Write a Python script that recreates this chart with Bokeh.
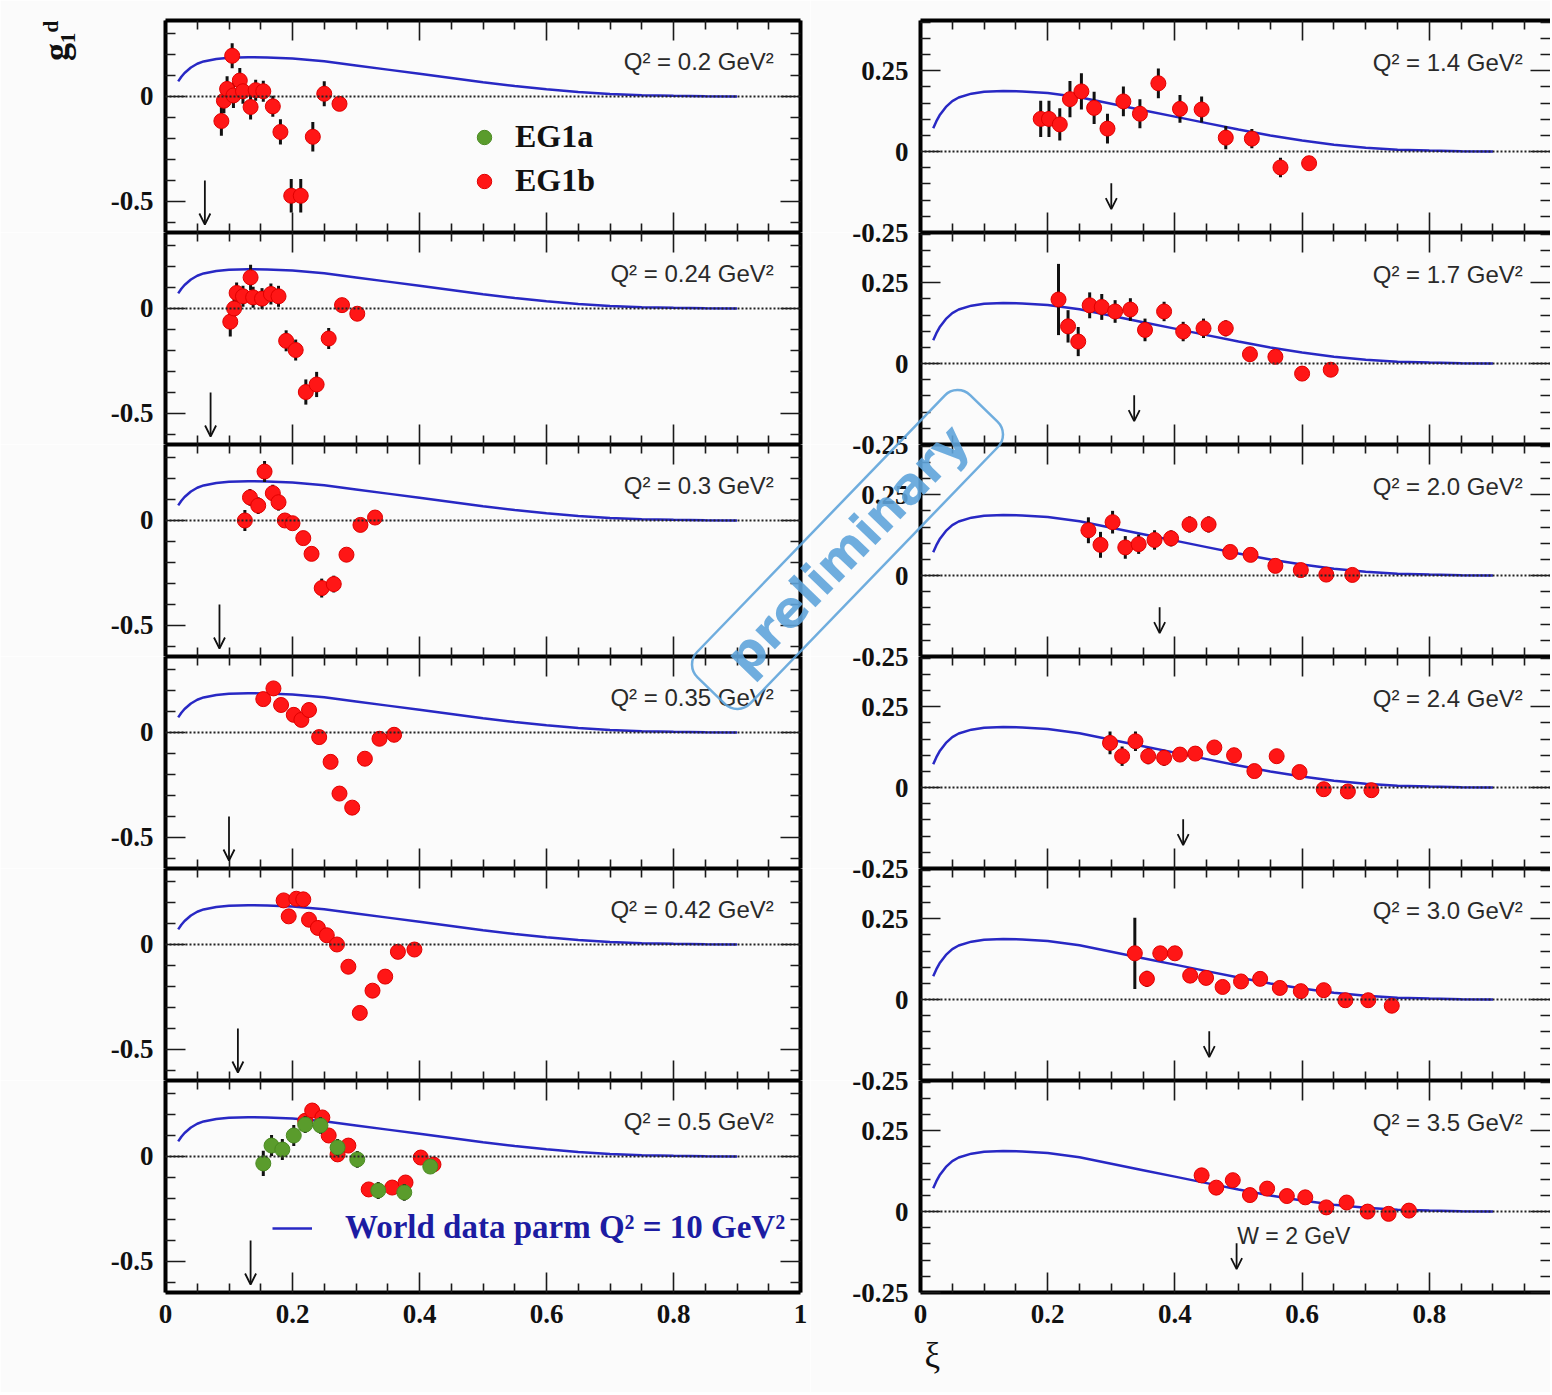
import math
from bokeh.plotting import figure
from bokeh.models import (Range1d, FixedTicker, LinearAxis, Span, Label, Arrow, OpenHead, Title,
                          ColumnDataSource, CustomJSTickFormatter, Legend, LegendItem, GridBox)
from bokeh.embed import file_html
from bokeh.resources import INLINE

# ---------------- data ----------------
# world data parametrisation (Q^2 = 10 GeV^2), same in every panel
curve_xi = [0.02, 0.025, 0.03, 0.04, 0.05, 0.06, 0.08, 0.1, 0.13, 0.16, 0.2, 0.25, 0.3,
            0.35, 0.4, 0.45, 0.5, 0.55, 0.6, 0.65, 0.7, 0.75, 0.8, 0.85, 0.9]
curve_g1 = [0.072, 0.094, 0.112, 0.138, 0.156, 0.167, 0.179, 0.185, 0.187, 0.186, 0.181, 0.168,
            0.148, 0.128, 0.108, 0.088, 0.068, 0.05, 0.034, 0.021, 0.012, 0.006, 0.003, 0.001, 0.0]

q2_left = ["0.2", "0.24", "0.3", "0.35", "0.42", "0.5"]
q2_right = ["1.4", "1.7", "2.0", "2.4", "3.0", "3.5"]

# W = 2 GeV arrows
w2_xi_left = [0.062, 0.071, 0.085, 0.100, 0.114, 0.134]
w2_xi_right = [0.300, 0.336, 0.376, 0.413, 0.454, 0.497]

# EG1b, Q^2 = 0.2
q020_xi = [0.088, 0.092, 0.097, 0.105, 0.107, 0.117, 0.122, 0.134, 0.142, 0.154, 0.169, 0.181, 0.198, 0.213, 0.232, 0.250, 0.274]
q020_g1 = [-0.117, -0.020, 0.036, 0.194, 0.005, 0.076, 0.025, -0.050, 0.030, 0.025, -0.047, -0.169, -0.473, -0.473, -0.192, 0.013, -0.035]
q020_er = [0.07, 0.06, 0.06, 0.06, 0.06, 0.06, 0.06, 0.06, 0.05, 0.05, 0.05, 0.06, 0.08, 0.08, 0.07, 0.06, 0.03]
# Q^2 = 0.24
q024_xi = [0.102, 0.108, 0.112, 0.122, 0.134, 0.138, 0.152, 0.166, 0.178, 0.190, 0.205, 0.221, 0.238, 0.257, 0.278, 0.302]
q024_g1 = [-0.063, 0.000, 0.074, 0.058, 0.148, 0.053, 0.047, 0.069, 0.058, -0.154, -0.198, -0.398, -0.362, -0.143, 0.016, -0.025]
q024_er = [0.07, 0.05, 0.05, 0.05, 0.06, 0.05, 0.05, 0.05, 0.05, 0.05, 0.05, 0.06, 0.06, 0.05, 0.03, 0.02]
# Q^2 = 0.3
q030_xi = [0.125, 0.133, 0.146, 0.156, 0.169, 0.178, 0.188, 0.200, 0.217, 0.230, 0.246, 0.265, 0.285, 0.307, 0.330]
q030_g1 = [0.000, 0.110, 0.071, 0.233, 0.130, 0.087, 0.000, -0.013, -0.084, -0.159, -0.322, -0.303, -0.163, -0.021, 0.014]
q030_er = [0.05, 0.04, 0.04, 0.05, 0.04, 0.04, 0.03, 0.03, 0.03, 0.03, 0.045, 0.04, 0.03, 0.02, 0.02]
# Q^2 = 0.35
q035_xi = [0.154, 0.170, 0.182, 0.202, 0.214, 0.226, 0.242, 0.260, 0.274, 0.294, 0.314, 0.337, 0.360]
q035_g1 = [0.159, 0.210, 0.131, 0.084, 0.060, 0.107, -0.022, -0.140, -0.291, -0.358, -0.125, -0.030, -0.011]
q035_er = [0.03, 0.03, 0.03, 0.025, 0.025, 0.02, 0.02, 0.02, 0.02, 0.02, 0.02, 0.015, 0.015]
# Q^2 = 0.42
q042_xi = [0.186, 0.194, 0.206, 0.217, 0.226, 0.240, 0.254, 0.270, 0.288, 0.306, 0.326, 0.346, 0.366, 0.392]
q042_g1 = [0.210, 0.134, 0.218, 0.215, 0.118, 0.079, 0.044, 0.000, -0.106, -0.326, -0.220, -0.153, -0.035, -0.024]
q042_er = [0.02, 0.02, 0.02, 0.02, 0.015, 0.015, 0.015, 0.015, 0.015, 0.015, 0.015, 0.015, 0.012, 0.012]
# Q^2 = 0.5 (EG1b)
q050_xi = [0.220, 0.231, 0.247, 0.257, 0.271, 0.288, 0.320, 0.357, 0.378, 0.402, 0.422]
q050_g1 = [0.170, 0.219, 0.186, 0.100, 0.010, 0.052, -0.157, -0.148, -0.124, -0.005, -0.038]
q050_er = [0.03, 0.03, 0.03, 0.03, 0.03, 0.03, 0.03, 0.03, 0.03, 0.02, 0.02]
# Q^2 = 0.5 (EG1a)
eg1a_q050_xi = [0.154, 0.167, 0.184, 0.202, 0.220, 0.244, 0.271, 0.302, 0.335, 0.376, 0.417]
eg1a_q050_g1 = [-0.033, 0.052, 0.033, 0.100, 0.152, 0.148, 0.043, -0.014, -0.162, -0.171, -0.048]
eg1a_q050_er = [0.06, 0.05, 0.05, 0.05, 0.04, 0.04, 0.04, 0.04, 0.04, 0.04, 0.03]
# Q^2 = 1.4
q140_xi = [0.189, 0.202, 0.219, 0.235, 0.253, 0.273, 0.294, 0.319, 0.345, 0.374, 0.408, 0.442, 0.480, 0.521, 0.566, 0.611]
q140_g1 = [0.101, 0.101, 0.084, 0.162, 0.186, 0.135, 0.071, 0.155, 0.117, 0.211, 0.132, 0.130, 0.043, 0.040, -0.049, -0.036]
q140_er = [0.056, 0.056, 0.05, 0.056, 0.056, 0.05, 0.046, 0.046, 0.045, 0.046, 0.043, 0.04, 0.036, 0.03, 0.03, 0.02]
# Q^2 = 1.7
q170_xi = [0.217, 0.232, 0.248, 0.266, 0.285, 0.306, 0.330, 0.353, 0.383, 0.413, 0.445, 0.480, 0.518, 0.558, 0.600, 0.645]
q170_g1 = [0.198, 0.115, 0.068, 0.180, 0.175, 0.161, 0.167, 0.104, 0.161, 0.099, 0.109, 0.109, 0.029, 0.021, -0.031, -0.019]
q170_er = [0.11, 0.05, 0.045, 0.04, 0.04, 0.035, 0.035, 0.035, 0.03, 0.03, 0.03, 0.025, 0.02, 0.02, 0.02, 0.015]
# Q^2 = 2.0
q200_xi = [0.264, 0.283, 0.302, 0.322, 0.343, 0.368, 0.394, 0.423, 0.453, 0.487, 0.519, 0.558, 0.598, 0.638, 0.679]
q200_g1 = [0.140, 0.095, 0.165, 0.087, 0.097, 0.110, 0.115, 0.158, 0.158, 0.073, 0.064, 0.030, 0.017, 0.003, 0.002]
q200_er = [0.04, 0.04, 0.035, 0.035, 0.03, 0.03, 0.025, 0.025, 0.025, 0.02, 0.02, 0.015, 0.015, 0.015, 0.01]
# Q^2 = 2.4
q240_xi = [0.298, 0.317, 0.338, 0.358, 0.383, 0.408, 0.432, 0.462, 0.493, 0.525, 0.560, 0.596, 0.634, 0.672, 0.709]
q240_g1 = [0.138, 0.097, 0.143, 0.097, 0.092, 0.102, 0.105, 0.124, 0.100, 0.051, 0.097, 0.048, -0.005, -0.012, -0.008]
q240_er = [0.035, 0.03, 0.03, 0.025, 0.025, 0.02, 0.02, 0.02, 0.02, 0.015, 0.015, 0.015, 0.012, 0.012, 0.012]
# Q^2 = 3.0
q300_xi = [0.337, 0.356, 0.377, 0.400, 0.424, 0.449, 0.475, 0.504, 0.534, 0.565, 0.598, 0.634, 0.668, 0.704, 0.741]
q300_g1 = [0.143, 0.064, 0.143, 0.143, 0.074, 0.067, 0.039, 0.056, 0.064, 0.036, 0.026, 0.029, -0.002, -0.002, -0.019]
q300_er = [0.11, 0.025, 0.02, 0.02, 0.015, 0.015, 0.015, 0.015, 0.015, 0.012, 0.012, 0.012, 0.012, 0.012, 0.012]
# Q^2 = 3.5
q350_xi = [0.442, 0.465, 0.491, 0.518, 0.545, 0.576, 0.605, 0.638, 0.670, 0.703, 0.736, 0.768]
q350_g1 = [0.112, 0.074, 0.097, 0.051, 0.071, 0.048, 0.044, 0.013, 0.028, 0.000, -0.007, 0.003]
q350_er = [0.015, 0.015, 0.015, 0.012, 0.012, 0.012, 0.012, 0.01, 0.01, 0.01, 0.01, 0.01]

x_major_left = [0, 0.2, 0.4, 0.6, 0.8, 1.0]
x_major_right = [0, 0.2, 0.4, 0.6, 0.8]
x_minor = [0.05, 0.1, 0.15, 0.25, 0.3, 0.35, 0.45, 0.5, 0.55, 0.65, 0.7, 0.75, 0.85, 0.9, 0.95]
y_major_left = [-0.5, 0]
y_minor_left = [-0.6, -0.4, -0.3, -0.2, -0.1, 0.1, 0.2, 0.3]
y_major_right = [-0.25, 0, 0.25]
y_minor_right = [-0.2, -0.15, -0.1, -0.05, 0.05, 0.1, 0.15, 0.2, 0.3, 0.35, 0.4]

eg1b_left = [(q020_xi, q020_g1, q020_er), (q024_xi, q024_g1, q024_er), (q030_xi, q030_g1, q030_er),
             (q035_xi, q035_g1, q035_er), (q042_xi, q042_g1, q042_er), (q050_xi, q050_g1, q050_er)]
eg1b_right = [(q140_xi, q140_g1, q140_er), (q170_xi, q170_g1, q170_er), (q200_xi, q200_g1, q200_er),
              (q240_xi, q240_g1, q240_er), (q300_xi, q300_g1, q300_er), (q350_xi, q350_g1, q350_er)]

# ---------------- layout / style ----------------
FH = 212                      # frame height of each panel
TOP_PX = 20                   # page y of the first frame top
BOTTOM_BORDER = 100
L_X0, L_FW, L_BR = 165, 635, 10
R_GAP = 110
R_X0, R_FW = 920, 630
R_PXU = 636.0
R_XEND = R_FW / R_PXU
L_Y = (-0.648, 0.362)
R_Y = (-0.25, 0.405)
TOTAL_W = L_X0 + L_FW + L_BR + R_GAP + R_FW

SERIF = "Liberation Serif"
SANS = "Liberation Sans"
RED = "#ff1616"
GREEN = "#5a9c2c"
BLUE = "#2828c4"
STAMP = "#5fa4da"
INK = "#111111"
BG = "#fbfbfb"

fmt_plain = CustomJSTickFormatter(code="""
if (Math.abs(tick) < 1e-9) { return "0"; }
return tick.toString();
""")
# in stacked right panels the -0.25 label sits on the shared edge and is drawn once, on top
fmt_right_mid = CustomJSTickFormatter(code="""
if (tick < -0.2) { return ""; }
if (Math.abs(tick) < 1e-9) { return "0"; }
return tick.toString();
""")


def style_axis(ax, labels, line=True, major=20, minor=9):
    ax.axis_line_width = 4
    ax.axis_line_color = "black" if line else None
    ax.major_tick_in = major
    ax.major_tick_out = 0
    ax.minor_tick_in = minor
    ax.minor_tick_out = 0
    ax.major_tick_line_width = 1.6
    ax.minor_tick_line_width = 1.6
    ax.major_tick_line_color = "#1a1a1a"
    ax.minor_tick_line_color = "#1a1a1a"
    if labels:
        ax.major_label_text_font = SERIF
        ax.major_label_text_font_style = "bold"
        ax.major_label_text_font_size = "27px"
        ax.major_label_text_color = INK
        ax.major_label_standoff = 12
    else:
        ax.major_label_text_color = None
        ax.major_label_text_font_size = "0px"
        ax.major_label_standoff = 0


def make_panel(colidx, r):
    left = colidx == 0
    ylo, yhi = L_Y if left else R_Y
    xend = 1.0 if left else R_XEND
    p = figure(frame_width=L_FW if left else R_FW, frame_height=FH,
               x_range=Range1d(0, xend), y_range=Range1d(ylo, yhi),
               output_backend="svg", toolbar_location=None, title=None,
               x_axis_location=None, y_axis_location=None,
               min_border_left=L_X0 if left else R_GAP,
               min_border_right=L_BR if left else 0,
               min_border_top=TOP_PX if r == 0 else 0,
               min_border_bottom=BOTTOM_BORDER if r == 5 else 0,
               background_fill_color=BG, border_fill_color=BG)
    p.outline_line_color = None
    p.grid.visible = False

    xt = FixedTicker(ticks=x_major_left if left else x_major_right, minor_ticks=x_minor)
    for loc in ("below", "above"):
        ax = LinearAxis(ticker=xt, formatter=fmt_plain)
        style_axis(ax, labels=(loc == "below" and r == 5), line=True, major=20, minor=9)
        p.add_layout(ax, loc)

    if left:
        yt = FixedTicker(ticks=y_major_left, minor_ticks=y_minor_left)
        yfmt = fmt_plain
    else:
        yt = FixedTicker(ticks=y_major_right, minor_ticks=y_minor_right)
        yfmt = fmt_plain if r == 5 else fmt_right_mid
    ax = LinearAxis(ticker=yt, formatter=yfmt)
    style_axis(ax, labels=True, line=True, major=20, minor=10)
    p.add_layout(ax, "left")
    ax = LinearAxis(ticker=yt, formatter=yfmt)
    style_axis(ax, labels=False, line=left, major=20, minor=10)
    p.add_layout(ax, "right")

    # zero line
    p.add_layout(Span(location=0, dimension="width", line_color="#222222",
                      line_width=2, line_dash="2 2"))

    # world data curve
    curve = p.line(curve_xi, curve_g1, line_color=BLUE, line_width=2.5)

    # EG1b data
    xs, ys, es = (eg1b_left if left else eg1b_right)[r]
    src = ColumnDataSource(dict(x=xs, y=ys, lo=[a - b for a, b in zip(ys, es)],
                                hi=[a + b for a, b in zip(ys, es)]))
    p.segment(x0="x", y0="lo", x1="x", y1="hi", source=src, line_color=INK, line_width=3)
    red_r = p.scatter("x", "y", source=src, size=15, marker="circle",
                      fill_color=RED, line_color="#e00000", line_width=1)

    # EG1a data (only Q^2 = 0.5)
    if left and r == 5:
        gsrc = ColumnDataSource(dict(x=eg1a_q050_xi, y=eg1a_q050_g1,
                                     lo=[a - b for a, b in zip(eg1a_q050_g1, eg1a_q050_er)],
                                     hi=[a + b for a, b in zip(eg1a_q050_g1, eg1a_q050_er)]))
        p.segment(x0="x", y0="lo", x1="x", y1="hi", source=gsrc, line_color=INK, line_width=3)
        p.scatter("x", "y", source=gsrc, size=15, marker="circle",
                  fill_color=GREEN, line_color="#4a8a22", line_width=1)

    # Q^2 label
    q2 = (q2_left if left else q2_right)[r]
    p.add_layout(Label(x=0.958 if left else 0.947, y=0.165 if left else 0.275,
                       text="Q² = %s GeV²" % q2, text_align="right", text_baseline="middle",
                       text_font=SANS, text_font_size="24px", text_color="#2a2a2a"))

    # W = 2 GeV arrow
    xw = (w2_xi_left if left else w2_xi_right)[r]
    ys0, ys1 = (-0.40, -0.61) if left else (-0.098, -0.178)
    p.add_layout(Arrow(x_start=xw, y_start=ys0, x_end=xw, y_end=ys1, line_width=1.8,
                       line_color=INK,
                       end=OpenHead(size=11, line_width=1.8, line_color=INK)))
    return p, red_r, curve


children = []
for r in range(6):
    p, red_r, curve = make_panel(0, r)
    if r == 0:
        # EG1a entry of the legend; proxy renderer kept invisible
        proxy = p.scatter(eg1a_q050_xi, eg1a_q050_g1, size=15, marker="circle",
                          fill_color=GREEN, line_color="#4a8a22", line_width=1, visible=False)
        leg = Legend(items=[LegendItem(label="EG1a", renderers=[proxy]),
                            LegendItem(label="EG1b", renderers=[red_r])],
                     location=(301, 33), orientation="vertical",
                     glyph_width=36, glyph_height=36, label_height=36, spacing=7,
                     label_standoff=13, padding=0, margin=0,
                     border_line_color=None, background_fill_alpha=0,
                     label_text_font=SERIF, label_text_font_style="bold",
                     label_text_font_size="32px", label_text_color=INK)
        p.add_layout(leg)
        # vertical axis title g_1^d at the top of the left margin
        p.add_layout(Title(text="g₁ᵈ", align="right", standoff=64,
                           text_font=SERIF, text_font_style="bold", text_font_size="36px",
                           text_color=INK), "left")
    if r == 5:
        leg2 = Legend(items=[LegendItem(label="World data parm Q² = 10 GeV²", renderers=[curve])],
                      location=(107, 46), glyph_width=40, glyph_height=36, label_height=36,
                      label_standoff=33, padding=0, margin=0,
                      border_line_color=None, background_fill_alpha=0,
                      label_text_font=SERIF, label_text_font_style="bold",
                      label_text_font_size="33px", label_text_color="#1c1ca2")
        p.add_layout(leg2)
    children.append((p, r, 0))

    q, _, _ = make_panel(1, r)
    if r == 5:
        q.add_layout(Label(x=0.498, y=-0.074, text="W = 2 GeV", text_align="left",
                           text_baseline="middle", text_font=SANS, text_font_size="23px",
                           text_color="#2a2a2a"))
        q.add_layout(Title(text="ξ", align="left", standoff=17, offset=4,
                           text_font=SERIF, text_font_style="normal", text_font_size="35px",
                           text_color=INK), "below")
    children.append((q, r, 1))

# ---- transparent overlay (page pixel units): shared -0.25 labels and the stamp ----
ov = figure(frame_width=TOTAL_W - L_X0, frame_height=6 * FH,
            x_range=Range1d(L_X0, TOTAL_W), y_range=Range1d(TOP_PX + 6 * FH, TOP_PX),
            output_backend="svg", toolbar_location=None, title=None,
            x_axis_location=None, y_axis_location=None,
            min_border_left=L_X0, min_border_right=0, min_border_top=TOP_PX,
            min_border_bottom=BOTTOM_BORDER,
            background_fill_alpha=0, border_fill_alpha=0)
ov.outline_line_color = None
ov.grid.visible = False

for k in range(1, 6):
    ov.add_layout(Label(x=R_X0 - 12, y=TOP_PX + k * FH, text="-0.25", text_align="right",
                        text_baseline="middle", text_font=SERIF, text_font_style="bold",
                        text_font_size="27px", text_color=INK))

ov.add_layout(Label(x=847, y=549, text="preliminary", angle=46, angle_units="deg",
                    text_font="DejaVu Sans", text_font_style="bold", text_font_size="50px",
                    text_color=STAMP, text_alpha=0.9, text_align="center", text_baseline="middle",
                    border_line_color=STAMP, border_line_width=2.5, border_line_alpha=0.9,
                    border_radius=18, padding=dict(left=34, right=34, top=8, bottom=8)))
children.append((ov, 0, 0, 6, 2))

layout = GridBox(children=children, spacing=0)

open("out.html", "w").write(file_html(layout, INLINE, title="g1d vs xi"))
